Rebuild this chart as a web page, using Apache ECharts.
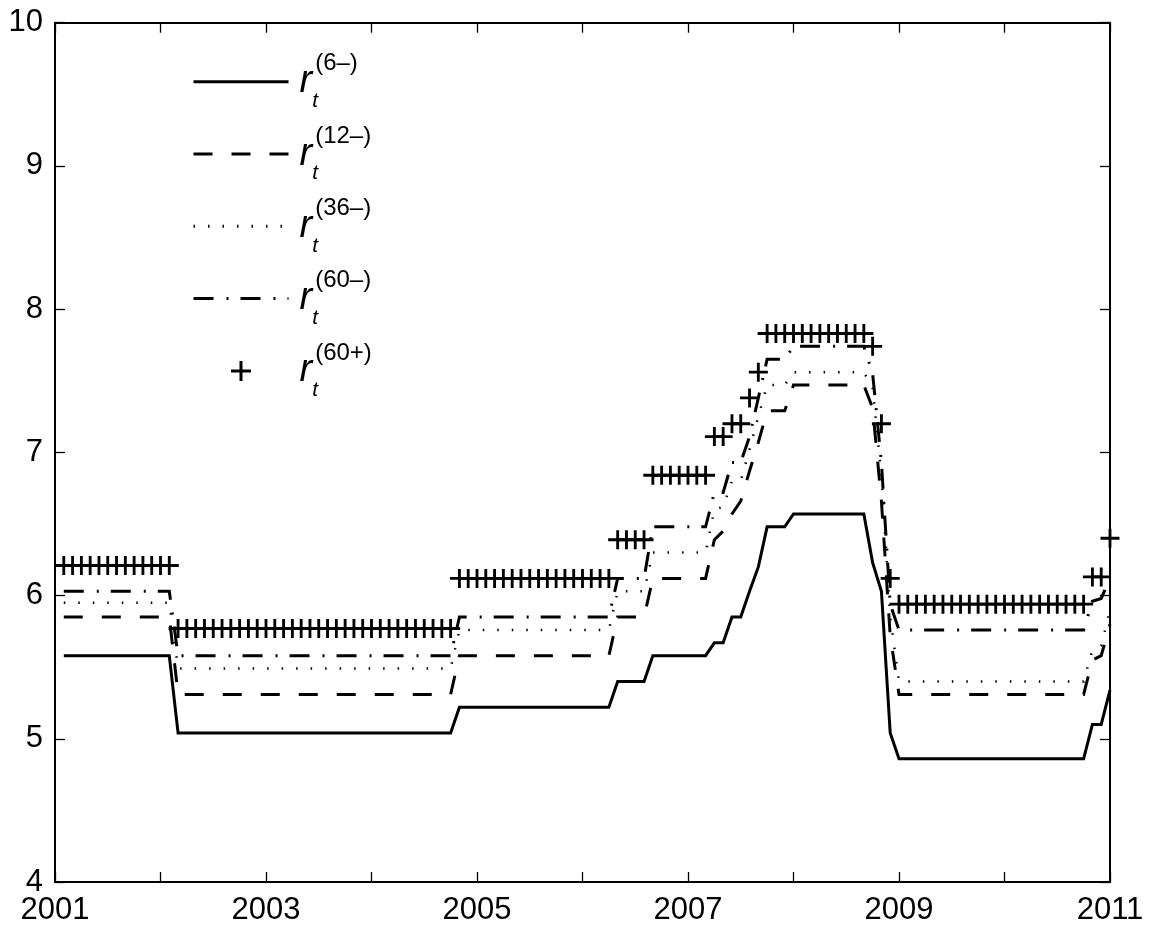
<!DOCTYPE html>
<html><head><meta charset="utf-8">
<script src="https://cdn.jsdelivr.net/npm/echarts@6/dist/echarts.min.js"></script>
<style>html,body{margin:0;padding:0;background:#fff}#c{width:1149px;height:926px}</style>
</head><body><div id="c"></div>
<script>
// x positions: monthly observations, Jan 2001 plotted at 2001+1/12 ... Dec 2010 at 2011
const startYear = 2001;
const xLabelYears = [2001, 2003, 2005, 2007, 2009, 2011];
const yTicks = [4, 5, 6, 7, 8, 9, 10];
const seriesNames = ['r6m', 'r12m', 'r36m', 'r60m', 'r60p'];
const legendSup = ['(6\u2013)', '(12\u2013)', '(36\u2013)', '(60\u2013)', '(60+)'];

const r6 = [
 5.58,5.58,5.58,5.58,5.58,5.58,5.58,5.58,5.58,5.58,5.58,5.58,5.58,
 5.04,5.04,5.04,5.04,5.04,5.04,5.04,5.04,
 5.04,5.04,5.04,5.04,5.04,5.04,5.04,5.04,
 5.04,5.04,5.04,5.04,5.04,5.04,5.04,5.04,
 5.04,5.04,5.04,5.04,5.04,5.04,5.04,5.04,
 5.22,5.22,5.22,5.22,5.22,5.22,5.22,5.22,5.22,5.22,5.22,5.22,5.22,5.22,5.22,5.22,5.22,5.22,
 5.40,5.40,5.40,5.40,
 5.58,5.58,5.58,5.58,5.58,5.58,5.58,
 5.67,5.67,5.85,5.85,6.03,6.20,
 6.48,6.48,6.48,
 6.57,6.57,6.57,6.57,6.57,6.57,6.57,6.57,6.57,
 6.23,6.03,5.04,
 4.86,4.86,4.86,4.86,4.86,4.86,4.86,4.86,4.86,4.86,4.86,
 4.86,4.86,4.86,4.86,4.86,4.86,4.86,4.86,4.86,4.86,4.86,
 5.10,5.10,5.34
];
const r12 = [
 5.85,5.85,5.85,5.85,5.85,5.85,5.85,5.85,5.85,5.85,5.85,5.85,5.85,
 5.31,5.31,5.31,5.31,5.31,5.31,5.31,5.31,
 5.31,5.31,5.31,5.31,5.31,5.31,5.31,5.31,
 5.31,5.31,5.31,5.31,5.31,5.31,5.31,5.31,
 5.31,5.31,5.31,5.31,5.31,5.31,5.31,5.31,
 5.58,5.58,5.58,5.58,5.58,5.58,5.58,5.58,5.58,5.58,5.58,5.58,5.58,5.58,5.58,5.58,5.58,5.58,
 5.85,5.85,5.85,5.85,
 6.12,6.12,6.12,6.12,6.12,6.12,6.12,
 6.39,6.45,6.57,6.66,6.87,7.07,
 7.29,7.29,7.29,
 7.47,7.47,7.47,7.47,7.47,7.47,7.47,7.47,7.47,
 7.31,6.66,5.72,
 5.31,5.31,5.31,5.31,5.31,5.31,5.31,5.31,5.31,5.31,5.31,
 5.31,5.31,5.31,5.31,5.31,5.31,5.31,5.31,5.31,5.31,5.31,
 5.55,5.58,5.80
];
const r36 = [
 5.95,5.95,5.95,5.95,5.95,5.95,5.95,5.95,5.95,5.95,5.95,5.95,5.95,
 5.49,5.49,5.49,5.49,5.49,5.49,5.49,5.49,
 5.49,5.49,5.49,5.49,5.49,5.49,5.49,5.49,
 5.49,5.49,5.49,5.49,5.49,5.49,5.49,5.49,
 5.49,5.49,5.49,5.49,5.49,5.49,5.49,5.49,
 5.76,5.76,5.76,5.76,5.76,5.76,5.76,5.76,5.76,5.76,5.76,5.76,5.76,5.76,5.76,5.76,5.76,5.76,
 6.03,6.03,6.03,6.03,
 6.30,6.30,6.30,6.30,6.30,6.30,6.30,
 6.60,6.62,6.80,6.80,7.02,7.25,
 7.47,7.47,7.47,
 7.56,7.56,7.56,7.56,7.56,7.56,7.56,7.56,7.56,
 7.45,6.84,5.85,
 5.40,5.40,5.40,5.40,5.40,5.40,5.40,5.40,5.40,5.40,5.40,
 5.40,5.40,5.40,5.40,5.40,5.40,5.40,5.40,5.40,5.40,5.40,
 5.62,5.65,5.90
];
const r60m = [
 6.03,6.03,6.03,6.03,6.03,6.03,6.03,6.03,6.03,6.03,6.03,6.03,6.03,
 5.58,5.58,5.58,5.58,5.58,5.58,5.58,5.58,
 5.58,5.58,5.58,5.58,5.58,5.58,5.58,5.58,
 5.58,5.58,5.58,5.58,5.58,5.58,5.58,5.58,
 5.58,5.58,5.58,5.58,5.58,5.58,5.58,5.58,
 5.85,5.85,5.85,5.85,5.85,5.85,5.85,5.85,5.85,5.85,5.85,5.85,5.85,5.85,5.85,5.85,5.85,5.85,
 6.12,6.12,6.12,6.12,
 6.48,6.48,6.48,6.48,6.48,6.48,6.48,
 6.72,6.72,6.93,6.93,7.11,7.38,
 7.65,7.65,7.65,
 7.74,7.74,7.74,7.74,7.74,7.74,7.74,7.74,7.74,
 7.55,6.93,5.94,
 5.76,5.76,5.76,5.76,5.76,5.76,5.76,5.76,5.76,5.76,5.76,
 5.76,5.76,5.76,5.76,5.76,5.76,5.76,5.76,5.76,5.76,5.76,
 5.96,5.98,6.12
];
const r60p = [
 6.21,6.21,6.21,6.21,6.21,6.21,6.21,6.21,6.21,6.21,6.21,6.21,6.21,
 5.77,5.77,5.77,5.77,5.77,5.77,5.77,5.77,
 5.77,5.77,5.77,5.77,5.77,5.77,5.77,5.77,
 5.77,5.77,5.77,5.77,5.77,5.77,5.77,5.77,
 5.77,5.77,5.77,5.77,5.77,5.77,5.77,5.77,
 6.12,6.12,6.12,6.12,6.12,6.12,6.12,6.12,6.12,6.12,6.12,6.12,6.12,6.12,6.12,6.12,6.12,6.12,
 6.39,6.39,6.39,6.39,
 6.84,6.84,6.84,6.84,6.84,6.84,6.84,
 7.11,7.11,7.20,7.20,7.38,7.56,
 7.83,7.83,7.83,7.83,7.83,7.83,7.83,7.83,7.83,7.83,7.83,7.83,
 7.74,7.20,6.12,
 5.94,5.94,5.94,5.94,5.94,5.94,5.94,5.94,5.94,5.94,5.94,
 5.94,5.94,5.94,5.94,5.94,5.94,5.94,5.94,5.94,5.94,5.94,
 6.13,6.13,6.40
];

const pts = arr => arr.map((v, k) => [startYear + (k + 1) / 12, v]);
const plusPath = 'path://M8.5,0 H11.5 V8.5 H20 V11.5 H11.5 V20 H8.5 V11.5 H0 V8.5 H8.5 Z';
const FONT = 'Liberation Sans';

const axisCommon = {
  axisLine: {show: true, onZero: false, lineStyle: {color: '#000', width: 2}},
  axisTick: {show: true, inside: true, length: 10, lineStyle: {color: '#000', width: 1.3}},
  splitLine: {show: false}
};

const chart = echarts.init(document.getElementById('c'), null, {renderer: 'canvas'});
chart.setOption({
  animation: false,
  backgroundColor: '#fff',
  grid: {left: 55, right: 39, top: 22.7, bottom: 43.7, containLabel: false},
  xAxis: [
    Object.assign({type: 'value', min: 2001, max: 2011, interval: 1, position: 'bottom',
      axisLabel: {show: true, margin: 13, color: '#000', fontSize: 31, fontFamily: FONT,
        showMinLabel: true, showMaxLabel: true,
        formatter: v => xLabelYears.indexOf(Math.round(v)) >= 0 ? String(Math.round(v)) : ''}}, axisCommon),
    Object.assign({type: 'value', min: 2001, max: 2011, interval: 1, position: 'top',
      axisLabel: {show: false}}, axisCommon)
  ],
  yAxis: [
    Object.assign({type: 'value', min: yTicks[0], max: yTicks[yTicks.length - 1], interval: 1, position: 'left',
      axisLabel: {show: true, margin: 12, color: '#000', fontSize: 31, fontFamily: FONT}}, axisCommon),
    Object.assign({type: 'value', min: yTicks[0], max: yTicks[yTicks.length - 1], interval: 1, position: 'right',
      axisLabel: {show: false}}, axisCommon)
  ],
  legend: {
    orient: 'vertical', left: 192, top: 51.7, padding: 0,
    itemWidth: 95, itemHeight: 20, itemGap: 12.3,
    data: seriesNames.map((n, k) => k < 4 ? {name: n, itemStyle: {opacity: 0}} : {name: n}),
    formatter: name => '{r|r}{t|t}{s|' + legendSup[seriesNames.indexOf(name)] + '}',
    lineStyle: {width: 3},
    textStyle: {
      color: '#000', fontFamily: FONT,
      rich: {
        r: {fontSize: 38, fontStyle: 'italic', fontFamily: FONT, color: '#000', lineHeight: 60, verticalAlign: 'middle', padding: [0, 0, 0, 6]},
        t: {fontSize: 21, fontStyle: 'italic', fontFamily: FONT, color: '#000', lineHeight: 20, verticalAlign: 'bottom', width: 3},
        s: {fontSize: 24, fontFamily: FONT, color: '#000', lineHeight: 40, verticalAlign: 'top'}
      }
    }
  },
  series: [
    {name: seriesNames[0], type: 'line', data: pts(r6), symbol: 'none', showSymbol: false,
      lineStyle: {color: '#000', width: 3, type: 'solid', join: 'miter'}, itemStyle: {color: '#000'}},
    {name: seriesNames[1], type: 'line', data: pts(r12), symbol: 'none', showSymbol: false,
      lineStyle: {color: '#000', width: 3, type: [19, 19], join: 'miter'}, itemStyle: {color: '#000'}},
    {name: seriesNames[2], type: 'line', data: pts(r36), symbol: 'none', showSymbol: false,
      lineStyle: {color: '#000', width: 2.5, type: [1.5, 13], join: 'miter'}, itemStyle: {color: '#000'}},
    {name: seriesNames[3], type: 'line', data: pts(r60m), symbol: 'none', showSymbol: false,
      lineStyle: {color: '#000', width: 3, type: [20, 13, 2, 12], join: 'miter'}, itemStyle: {color: '#000'}},
    {name: seriesNames[4], type: 'scatter', data: pts(r60p), symbol: plusPath, symbolSize: 19,
      itemStyle: {color: '#000', opacity: 1}, clip: false}
  ]
});
</script>
</body></html>
